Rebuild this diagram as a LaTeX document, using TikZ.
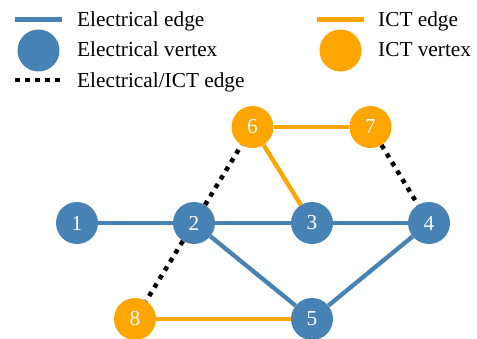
\documentclass[tikz,border=0pt]{standalone}
\usepackage{fontspec}
\setmainfont{Liberation Serif}
\definecolor{elec}{RGB}{70,130,180}
\definecolor{ict}{RGB}{255,165,0}
\begin{document}
\begin{tikzpicture}[x=1pt,y=-1pt,
  every node/.style={font=\fontsize{21.3}{25}\selectfont},
  evert/.style={circle,fill=elec,minimum size=42pt,inner sep=0pt,text=white},
  ivert/.style={circle,fill=ict,minimum size=42pt,inner sep=0pt,text=white},
  eedge/.style={draw=elec,line width=4.3pt},
  iedge/.style={draw=ict,line width=4.3pt},
  xedge/.style={draw=black,line width=4.5pt,dash pattern=on 4.5pt off 5.5pt},
  legtext/.style={anchor=base west,inner sep=0pt}]
\useasboundingbox (0,0) rectangle (477,339);
% legend
\coordinate (la1) at (15,19.5);
\coordinate (la2) at (62,19.5);
\draw[eedge,line width=4.7pt] (la1) -- (la2);
\node[evert] (lev) at (38.5,50.5) {};
\coordinate (lc1) at (15,80);
\coordinate (lc2) at (62,80);
\draw[xedge] (lc1) -- (lc2);
\node[legtext] (t1) at (77,26.5) {Electrical edge};
\node[legtext] (t2) at (77,57) {Electrical vertex};
\node[legtext] (t3) at (77,87.5) {Electrical/ICT edge};
\coordinate (lb1) at (317,19.5);
\coordinate (lb2) at (364,19.5);
\draw[iedge,line width=4.7pt] (lb1) -- (lb2);
\node[ivert] (liv) at (340.5,50.5) {};
\node[legtext] (t4) at (378,26.5) {ICT edge};
\node[legtext] (t5) at (378,57) {ICT vertex};
% graph nodes
\node[evert] (n1) at (77,223) {1};
\node[evert] (n2) at (194,223) {2};
\node[evert] (n3) at (312,223) {3};
\node[evert] (n4) at (429,223) {4};
\node[evert] (n5) at (312,319) {5};
\node[ivert] (n6) at (252.5,127) {6};
\node[ivert] (n7) at (370.5,127) {7};
\node[ivert] (n8) at (135,319) {8};
% edges
\draw[eedge] (n1) -- (n2);
\draw[eedge] (n2) -- (n3);
\draw[eedge] (n3) -- (n4);
\draw[eedge] (n2) -- (n5);
\draw[eedge] (n4) -- (n5);
\draw[iedge] (n6) -- (n7);
\draw[iedge] (n6) -- (n3);
\draw[iedge] (n8) -- (n5);
\draw[xedge] (n2) -- (n6);
\draw[xedge] (n2) -- (n8);
\draw[xedge] (n7) -- (n4);
\end{tikzpicture}
\end{document}
